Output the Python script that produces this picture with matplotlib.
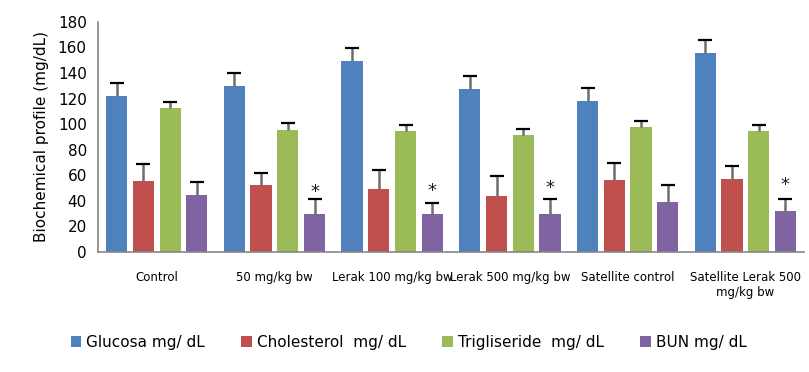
import matplotlib.pyplot as plt
import numpy as np

# data
groups = ['Control', '50 mg/kg bw', 'Lerak 100 mg/kg bw', 'Lerak 500 mg/kg bw',
          'Satellite control', 'Satellite Lerak 500\nmg/kg bw']
series = ['Glucosa mg/ dL', 'Cholesterol  mg/ dL', 'Trigliseride  mg/ dL', 'BUN mg/ dL']
glucosa = [122, 130, 149.5, 127.5, 118, 155.5]
glucosa_err = [10, 10, 10, 10, 10, 10]
cholesterol = [55.5, 52.5, 49.5, 44, 56.5, 57]
cholesterol_err = [13, 9, 14.5, 15.5, 13, 10]
trigliseride = [112.5, 95.5, 94.5, 91.5, 98, 94.5]
trigliseride_err = [5, 5, 5, 5, 4.5, 5]
bun = [44.5, 30, 30, 30, 39, 32]
bun_err = [10.5, 11.5, 8.5, 11.5, 13, 9]
star_pos = [None, 47, 48, 50, None, 52]

colors = ['#4F81BD', '#C0504D', '#9BBB59', '#8064A2']
values = [glucosa, cholesterol, trigliseride, bun]
errors = [glucosa_err, cholesterol_err, trigliseride_err, bun_err]

fig = plt.figure(figsize=(8.09, 3.72), dpi=100)
ax = fig.add_axes([0.121, 0.323, 0.873, 0.618])

x = np.arange(len(groups))
pitch = 0.227
width = 0.18
for i, (vals, errs, c, name) in enumerate(zip(values, errors, colors, series)):
    pos = x + (i - 1.5) * pitch
    ax.bar(pos, vals, width, color=c, label=name, zorder=2)
    _, caps, bars = ax.errorbar(pos, vals, yerr=[np.zeros(len(vals)), errs], fmt='none',
                                ecolor='#6f6f6f', elinewidth=1.8, capsize=5, capthick=1.6,
                                zorder=3)
    # only the upper cap, drawn in black
    caps[0].set_visible(False)
    caps[1].set_markeredgecolor('black')

bun_pos = x + 1.5 * pitch
for xp, s in zip(bun_pos, star_pos):
    if s is not None:
        ax.text(xp, s, '*', ha='center', va='center', fontsize=13, color='#1a1a1a')

ax.set_xlim(-0.5, len(groups) - 0.5)
ax.set_ylim(0, 180)
ax.set_yticks(range(0, 181, 20))
ax.set_xticks(x)
ax.set_xticklabels(groups, fontsize=8.5, family=['Liberation Sans Narrow', 'DejaVu Sans'])
ax.tick_params(axis='both', length=0)
ax.tick_params(axis='x', pad=14)
ax.tick_params(axis='y', labelsize=11, pad=8)
ax.set_ylabel('Biochemical profile (mg/dL)', fontsize=11, labelpad=6)

for side in ['top', 'right']:
    ax.spines[side].set_visible(False)
for side in ['left', 'bottom']:
    ax.spines[side].set_color('#868686')
    ax.spines[side].set_linewidth(1.2)

fig.legend(loc='center', bbox_to_anchor=(0.505, 0.08), ncol=4, frameon=False,
           fontsize=11, handlelength=0.7, handleheight=0.7, handletextpad=0.3,
           columnspacing=2.4)

fig.savefig('out.png', dpi=100)
